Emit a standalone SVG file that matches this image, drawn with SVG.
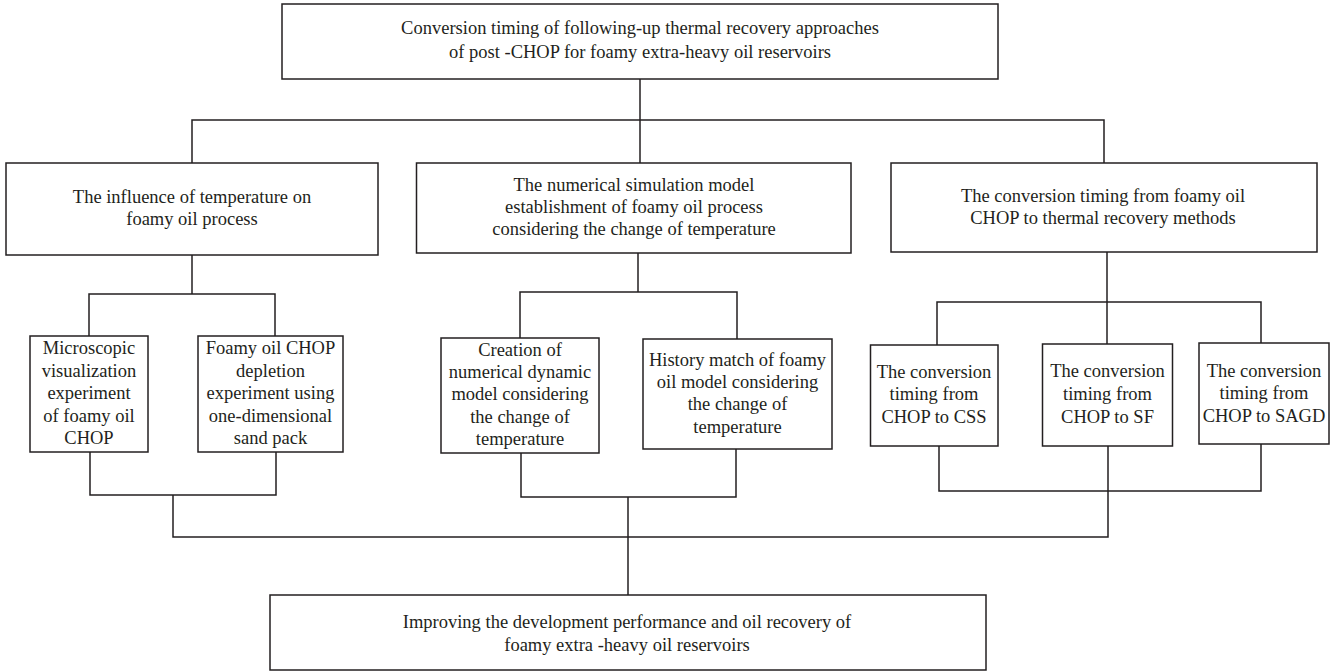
<svg xmlns="http://www.w3.org/2000/svg" width="1335" height="671" viewBox="0 0 1335 671">
<style>
.box{fill:#fff;stroke:#231f20;stroke-width:1.5}
.con{fill:none;stroke:#231f20;stroke-width:1.5}
text{font-family:"Liberation Serif","Times New Roman",serif;font-size:18.5px;fill:#231f20;text-anchor:middle}
</style>
<rect width="1335" height="671" fill="#fff"/>
<g id="connectors">
<path class="con" d="M640 79V163"/>
<path class="con" d="M192 163V120H1104V163"/>
<path class="con" d="M192 255V294"/>
<path class="con" d="M89 336V294H275V336"/>
<path class="con" d="M638 253V292"/>
<path class="con" d="M520 338V292H737V339"/>
<path class="con" d="M1107 252V344"/>
<path class="con" d="M937 345V302H1261V343"/>
<path class="con" d="M90 452V495H276V452"/>
<path class="con" d="M173 495V537H1108V446"/>
<path class="con" d="M521 453V497H736V449"/>
<path class="con" d="M628 497V595"/>
<path class="con" d="M939 446V491H1261V444"/>
</g>
<g id="top">
<rect class="box" x="282" y="4" width="716" height="75"/>
<text x="640" y="34">Conversion timing of following-up thermal recovery approaches</text>
<text x="640" y="58">of post -CHOP for foamy extra-heavy oil reservoirs</text>
</g>
<g id="influence">
<rect class="box" x="6" y="163" width="372" height="92"/>
<text x="192" y="203">The influence of temperature on</text>
<text x="192" y="225">foamy oil process</text>
</g>
<g id="numerical">
<rect class="box" x="416.5" y="163" width="434.5" height="90"/>
<text x="634" y="191">The numerical simulation model</text>
<text x="634" y="213">establishment of foamy oil process</text>
<text x="634" y="235">considering the change of temperature</text>
</g>
<g id="conversion">
<rect class="box" x="891" y="163" width="426" height="89"/>
<text x="1103" y="202">The conversion timing from foamy oil</text>
<text x="1103" y="224">CHOP to thermal recovery methods</text>
</g>
<g id="microscopic">
<rect class="box" x="30" y="336" width="118" height="116"/>
<text x="89" y="354">Microscopic</text>
<text x="89" y="376.5">visualization</text>
<text x="89" y="399">experiment</text>
<text x="89" y="421.5">of foamy oil</text>
<text x="89" y="444">CHOP</text>
</g>
<g id="depletion">
<rect class="box" x="198" y="336" width="145" height="116"/>
<text x="270.5" y="354">Foamy oil CHOP</text>
<text x="270.5" y="376.5">depletion</text>
<text x="270.5" y="399">experiment using</text>
<text x="270.5" y="421.5">one-dimensional</text>
<text x="270.5" y="444">sand pack</text>
</g>
<g id="creation">
<rect class="box" x="441" y="338" width="158" height="115"/>
<text x="520" y="356">Creation of</text>
<text x="520" y="378">numerical dynamic</text>
<text x="520" y="400">model considering</text>
<text x="520" y="423">the change of</text>
<text x="520" y="445">temperature</text>
</g>
<g id="history">
<rect class="box" x="643" y="339" width="189" height="110"/>
<text x="737.5" y="366">History match of foamy</text>
<text x="737.5" y="388">oil model considering</text>
<text x="737.5" y="410">the change of</text>
<text x="737.5" y="433">temperature</text>
</g>
<g id="css">
<rect class="box" x="870.5" y="345" width="127.5" height="101"/>
<text x="934" y="378">The conversion</text>
<text x="934" y="400">timing from</text>
<text x="934" y="423">CHOP to CSS</text>
</g>
<g id="sf">
<rect class="box" x="1042.5" y="344" width="130" height="102"/>
<text x="1107.5" y="377">The conversion</text>
<text x="1107.5" y="400">timing from</text>
<text x="1107.5" y="423">CHOP to SF</text>
</g>
<g id="sagd">
<rect class="box" x="1199" y="343" width="130" height="101"/>
<text x="1264" y="377">The conversion</text>
<text x="1264" y="399">timing from</text>
<text x="1264" y="422">CHOP to SAGD</text>
</g>
<g id="improving">
<rect class="box" x="270" y="595" width="716" height="75"/>
<text x="627" y="628">Improving the development performance and oil recovery of</text>
<text x="627" y="651">foamy extra -heavy oil reservoirs</text>
</g>
</svg>
